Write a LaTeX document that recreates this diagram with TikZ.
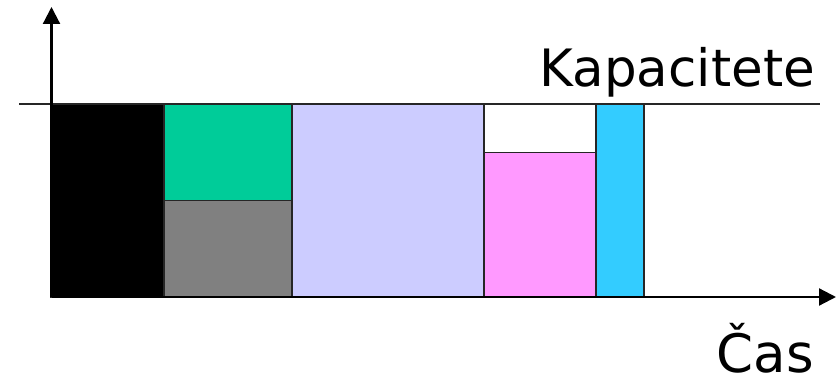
\documentclass[tikz,border=0pt]{standalone}
\usepackage{fontspec}
\setmainfont{DejaVu Sans}
\usetikzlibrary{arrows.meta}
\definecolor{cgreen}{RGB}{0,204,153}
\definecolor{cgray}{RGB}{128,128,128}
\definecolor{clav}{RGB}{204,204,255}
\definecolor{cpink}{RGB}{255,153,255}
\definecolor{ccyan}{RGB}{51,204,255}
\tikzset{
  blk/.style={draw=black!85,line width=1.8pt},
  axis/.style={line width=2.2pt,-{Triangle[length=17pt,width=17pt]}},
  lbl/.style={inner sep=0pt,text depth=0pt,font=\fontsize{51.5}{60}\selectfont}
}
\begin{document}
\begin{tikzpicture}[x=1pt,y=-1pt]
\useasboundingbox (0,0) rectangle (837,379);
% capacity line
\coordinate (capL) at (19,104);
\coordinate (capR) at (820,104);
\draw[line width=1.8pt,black!85] (capL) -- (capR);
% blocks
\filldraw[blk,fill=black] (51,104) rectangle (164,297);
\filldraw[blk,fill=cgreen] (164,104) rectangle (292,200.5);
\filldraw[blk,fill=cgray] (164,200.5) rectangle (292,297);
\filldraw[blk,fill=clav] (292,104) rectangle (484,297);
\filldraw[blk,fill=white] (484,104) rectangle (596,152.5);
\filldraw[blk,fill=cpink] (484,152.5) rectangle (596,297);
\filldraw[blk,fill=ccyan] (596,104) rectangle (644,297);
% axes
\coordinate (o) at (51.5,297);
\coordinate (ytop) at (51.5,7);
\coordinate (xend) at (836,297);
\draw[axis] (o) -- (ytop);
\draw[axis] (o) -- (xend);
% labels
\node[lbl,anchor=base east] (kap) at (815,87) {Kapacitete};
\node[lbl,anchor=base east,font=\fontsize{53}{60}\selectfont] (cas) at (814,372) {Čas};
\end{tikzpicture}
\end{document}
